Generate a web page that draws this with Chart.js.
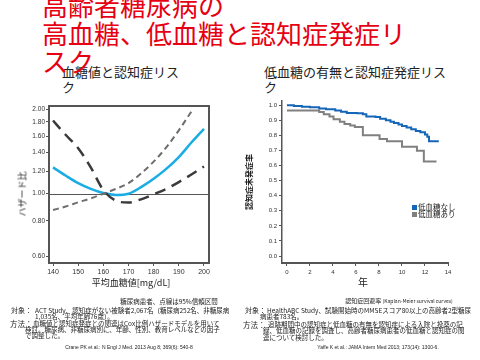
<!DOCTYPE html>
<html>
<head>
<meta charset="utf-8">
<script src="https://cdn.jsdelivr.net/npm/chart.js@4.4.0/dist/chart.umd.min.js"></script>
<style>
body { margin: 0; width: 480px; height: 360px; overflow: hidden; background: #fff; position: relative;
       font-family: "Noto Sans CJK JP", sans-serif; color: #222; }
.t { position: absolute; white-space: nowrap; line-height: 1; }
.c { transform: translate(-50%, -50%); }
.rot { transform: translate(-50%, -50%) rotate(-90deg); }
.b { font-size: 6.5px; }
canvas { position: absolute; }
</style>
</head>
<body>

<div class="t" style="left:62px;top:63.5px;font-size:13px;line-height:15px;">血糖値と認知症リス<br>ク</div>
<div class="t" style="left:264px;top:63.5px;font-size:13px;line-height:15px;">低血糖の有無と認知症発症リス<br>ク</div>

<canvas id="glucoseChart" width="230" height="195" style="left:0;top:95px;"></canvas>
<canvas id="kmChart" width="230" height="195" style="left:240px;top:95px;"></canvas>

<div class="t rot" style="left:22px;top:194px;font-size:9px;">ハザード比</div>
<div class="t c" style="left:131px;top:282px;font-size:9px;">平均血糖値[mg/dL]</div>
<div class="t rot" style="left:249px;top:182px;font-size:8px;font-weight:bold;">認知症未発症率</div>
<div class="t c" style="left:363px;top:282px;font-size:10px;">年</div>

<div class="t" style="left:412px;top:202.5px;font-size:7.5px;"><span style="display:inline-block;width:5px;height:5px;background:#1565b8;margin-right:1px;"></span>低血糖なし</div>
<div class="t" style="left:412px;top:209.5px;font-size:7.5px;"><span style="display:inline-block;width:5px;height:5px;background:#808080;margin-right:1px;"></span>低血糖あり</div>

<div class="t c" style="left:169px;top:301px;font-size:6.5px;">糖尿病患者、点線は95%信頼区間</div>
<div class="t c" style="left:399px;top:301px;font-size:6px;">認知症回避率 <span style="font-size:5px">(Kaplan-Meier survival curves)</span></div>

<div class="t b" style="left:11px;top:307px;font-size:7px;">対象：</div>
<div class="t b" style="left:35px;top:307px;">ACT Study、認知症がない被験者2,067名（糖尿病252名、非糖尿病</div>
<div class="t b" style="left:35px;top:313px;">1,035名、平均年齢76歳）。</div>
<div class="t b" style="left:10px;top:319.5px;font-size:7.5px;">方法：</div>
<div class="t b" style="left:33px;top:320px;">血糖値と認知症発症との関連はCox比例ハザードモデルを用いて</div>
<div class="t b" style="left:25px;top:326px;">検討。糖尿病、非糖尿病別に、年齢、性別、教育レベルなどの因子</div>
<div class="t b" style="left:25px;top:332px;">で調整した。</div>

<div class="t b" style="left:245px;top:307px;font-size:7px;">対象：</div>
<div class="t b" style="left:267px;top:307px;">HealthABC Study、試験開始時のMMSEスコア80以上の高齢者2型糖尿</div>
<div class="t b" style="left:260px;top:313px;">病患者783名。</div>
<div class="t b" style="left:243px;top:320.5px;font-size:7.5px;">方法：</div>
<div class="t b" style="left:268px;top:321px;">追跡期間中の認知症と低血糖の有無を認知症による入院と投薬の記</div>
<div class="t b" style="left:263px;top:327px;">録、低血糖の記録を調査し、高齢者糖尿病患者の低血糖と認知症の関</div>
<div class="t b" style="left:263px;top:333.5px;">連について検討した。</div>

<div class="t c" style="left:129px;top:347px;font-size:5px;font-family:'Liberation Sans';">Crane PK et al.: N Engl J Med. 2013 Aug 8; 369(6): 540-8</div>
<div class="t c" style="left:378px;top:347px;font-size:5px;font-family:'Liberation Sans';">Yaffe K et al.: JAMA Intern Med 2013; 173(14): 1300-6.</div>

<div class="t" style="left:42px;top:-9.5px;font-size:26px;line-height:28px;color:#e60012;">高齢者糖尿病の<br>高血糖、低血糖と認知症発症リ<br>スク</div>

<script>
// left chart: hazard ratio vs mean glucose
const glucose = [140, 145, 150, 155, 160, 165, 170, 175, 180, 185, 190, 195, 200];
const hrDiabetes = [1.24, 1.16, 1.09, 1.04, 1.005, 0.99, 1.00, 1.055, 1.13, 1.225, 1.35, 1.52, 1.70];
const ciBlack = [1.82, 1.62, 1.45, 1.24, 1.03, 0.945, 0.93, 0.955, 0.995, 1.04, 1.10, 1.17, 1.25];
const ciGray = [0.875, 0.90, 0.932, 0.962, 1.00, 1.04, 1.09, 1.18, 1.30, 1.46, 1.68, 1.96, null];
const hrTicks = [0.60, 0.80, 1.00, 1.20, 1.40, 1.60, 1.80, 2.00];
const glucoseTicks = [140, 150, 160, 170, 180, 190, 200];

// right chart: Kaplan-Meier curves
const yearsNoHypo = [0, 0.6, 1.3, 2.0, 2.8, 3.4, 4.2, 4.7, 5.2, 6.1, 6.6, 6.9, 7.7, 8.1, 8.6, 9.0, 9.3, 9.7, 10.0, 10.4, 10.8, 11.2, 11.6, 12.0, 12.2, 12.35, 13.2];
const survNoHypo = [1.0, 0.995, 0.99, 0.986, 0.978, 0.972, 0.965, 0.956, 0.948, 0.946, 0.94, 0.925, 0.921, 0.91, 0.90, 0.89, 0.882, 0.872, 0.862, 0.852, 0.84, 0.828, 0.82, 0.806, 0.79, 0.76, 0.76];
const yearsHypo = [0, 2.8, 3.2, 3.7, 4.05, 4.6, 5.0, 5.5, 5.9, 6.6, 8.05, 8.7, 10.0, 11.3, 11.9, 13.0];
const survHypo = [0.965, 0.955, 0.94, 0.925, 0.906, 0.89, 0.875, 0.865, 0.855, 0.80, 0.775, 0.76, 0.725, 0.697, 0.627, 0.627];
const yearTicks = [0, 2, 4, 6, 8, 10, 12, 14];
const survTicks = [0, 0.1, 0.2, 0.3, 0.4, 0.5, 0.6, 0.7, 0.8, 0.9, 1.0];

Chart.defaults.font.family = 'Liberation Sans';
Chart.defaults.color = '#333';

function toPoints(xs, ys) {
    return xs.map((x, i) => ({ x: x, y: ys[i] }));
}

// frame round the plot + reference line at HR 1.00
const framePlugin = {
    id: 'frame',
    beforeDatasetsDraw(chart) {
        const { ctx, chartArea: a, scales } = chart;
        ctx.save();
        ctx.strokeStyle = '#555';
        ctx.lineWidth = 1;
        const y1 = Math.round(scales.y.getPixelForValue(1)) + 0.5;
        ctx.beginPath();
        ctx.moveTo(a.left, y1);
        ctx.lineTo(a.right, y1);
        ctx.stroke();
        ctx.lineWidth = 2;
        ctx.strokeRect(a.left, a.top, a.right - a.left, a.bottom - a.top);
        ctx.restore();
    }
};

new Chart(document.getElementById('glucoseChart'), {
    type: 'line',
    data: {
        datasets: [{
            data: toPoints(glucose, ciGray),
            borderColor: '#6e6e6e',
            borderWidth: 2,
            borderDash: [6, 4]
        }, {
            data: toPoints(glucose, ciBlack),
            borderColor: '#3a3a3a',
            borderWidth: 2.5,
            borderDash: [11, 7]
        }, {
            data: toPoints(glucose, hrDiabetes),
            borderColor: '#19ade4',
            borderWidth: 2.5
        }]
    },
    options: {
        responsive: false,
        animation: false,
        devicePixelRatio: 1,
        layout: { padding: { top: 11, right: 21, bottom: 0, left: 0 } },
        elements: {
            point: { radius: 0 },
            line: { cubicInterpolationMode: 'monotone', fill: false }
        },
        plugins: { legend: { display: false }, tooltip: { enabled: false } },
        scales: {
            x: {
                type: 'linear',
                min: 138.4,
                max: 202,
                afterBuildTicks: s => { s.ticks = glucoseTicks.map(v => ({ value: v })); },
                afterFit: s => { s.height = 27; },
                grid: { drawOnChartArea: false, tickLength: 3, color: '#555' },
                border: { display: false },
                ticks: { font: { size: 7 }, padding: 2, autoSkip: false, maxRotation: 0 }
            },
            y: {
                type: 'logarithmic',
                min: 0.567,
                max: 2.05,
                afterBuildTicks: s => { s.ticks = hrTicks.map(v => ({ value: v })); },
                afterFit: s => { s.width = 49; },
                grid: { drawOnChartArea: false, tickLength: 3, color: '#555' },
                border: { display: false },
                ticks: {
                    font: { size: 6.5 },
                    padding: 1,
                    autoSkip: false,
                    callback: v => Number(v).toFixed(2)
                }
            }
        }
    },
    plugins: [framePlugin]
});

new Chart(document.getElementById('kmChart'), {
    type: 'line',
    data: {
        datasets: [{
            label: '低血糖なし',
            data: toPoints(yearsNoHypo, survNoHypo),
            borderColor: '#1565b8',
            borderWidth: 2,
            stepped: true
        }, {
            label: '低血糖あり',
            data: toPoints(yearsHypo, survHypo),
            borderColor: '#808080',
            borderWidth: 2,
            stepped: true
        }]
    },
    options: {
        responsive: false,
        animation: false,
        devicePixelRatio: 1,
        layout: { padding: { top: 4.4, right: 22, bottom: 0, left: 0 } },
        elements: { point: { radius: 0 }, line: { fill: false } },
        plugins: { legend: { display: false }, tooltip: { enabled: false } },
        scales: {
            x: {
                type: 'linear',
                min: -0.43,
                max: 14,
                afterBuildTicks: s => { s.ticks = yearTicks.map(v => ({ value: v })); },
                afterFit: s => { s.height = 27; },
                grid: { drawOnChartArea: false, tickLength: 3, color: '#555' },
                border: { color: '#555', width: 2 },
                ticks: { font: { size: 6 }, padding: 3, autoSkip: false, maxRotation: 0 }
            },
            y: {
                min: -0.046,
                max: 1.03,
                afterBuildTicks: s => { s.ticks = survTicks.map(v => ({ value: v })); },
                afterFit: s => { s.width = 42; },
                grid: { drawOnChartArea: false, tickLength: 3, color: '#555' },
                border: { color: '#555', width: 1.5 },
                ticks: {
                    font: { size: 6 },
                    padding: 2,
                    autoSkip: false,
                    callback: v => Number(v).toFixed(1)
                }
            }
        }
    }
});
</script>
</body>
</html>
